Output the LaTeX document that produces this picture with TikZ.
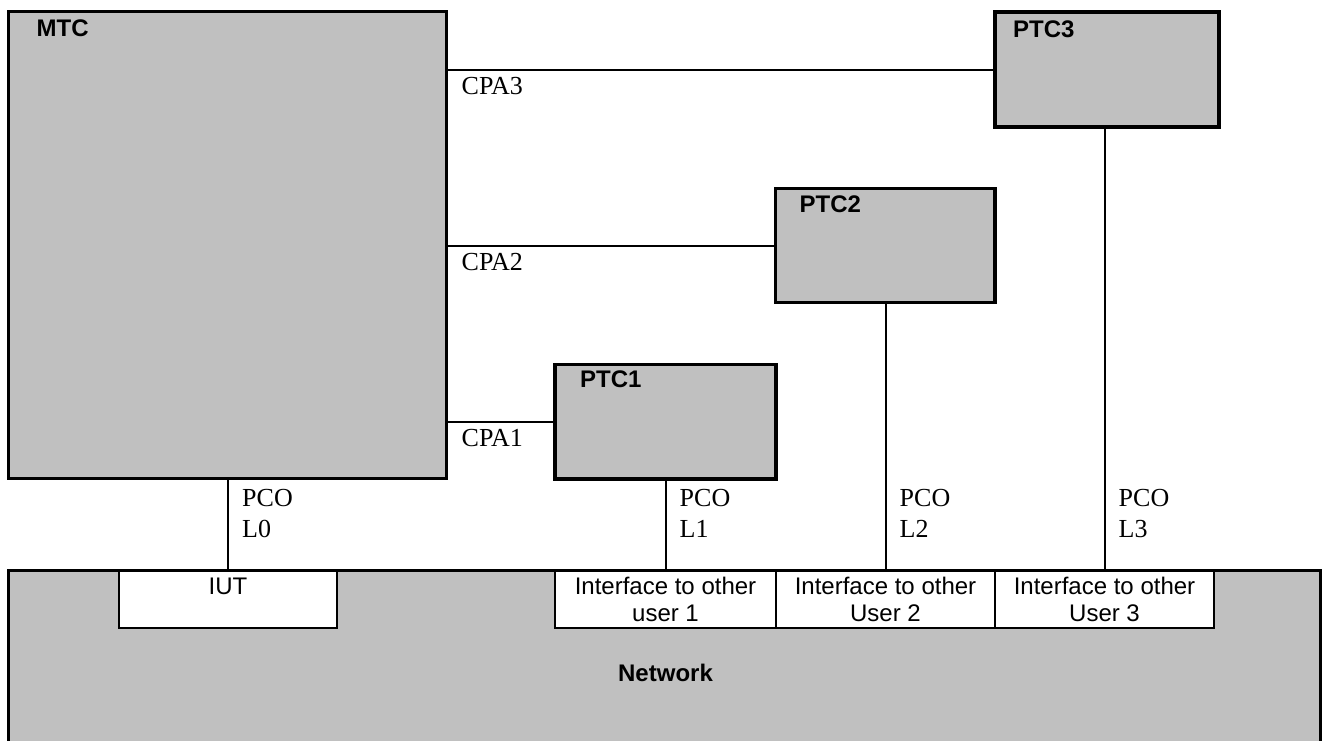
\documentclass[tikz,border=0pt]{standalone}
\usepackage{fontspec}
\setmainfont{Liberation Serif}
\setsansfont{Liberation Sans}
\usetikzlibrary{positioning,calc}
\definecolor{tcGray}{HTML}{C0C0C0}
\tikzset{
    % component boxes
    comp/.style={rectangle,draw=black,fill=tcGray,line width=3.5pt,anchor=north west,inner sep=0pt,outer sep=0pt},
    iface/.style={rectangle,draw=black,fill=white,line width=1.8pt,anchor=north west,inner sep=0pt,outer sep=0pt,align=center,font=\sffamily\fontsize{24}{27}\selectfont},
    % texts
    compname/.style={anchor=base west,inner sep=0pt,font=\sffamily\bfseries\fontsize{24}{28}\selectfont},
    portlbl/.style={anchor=base west,inner sep=0pt,align=left,font=\fontsize{26}{31}\selectfont},
    % connectors
    link/.style={line width=2pt}
}

\begin{document}
\begin{tikzpicture}[x=1pt,y=-1pt]
    \useasboundingbox (0,0) rectangle (1324,740);

    % Network with its interfaces
    \node[comp,minimum width=1312pt,minimum height=200pt] (net) at (8.5,570.5) {};
    \node[compname,anchor=base] (netname) at ($(net.north)+(1,111)$) {Network};
    \node[iface,minimum width=218pt,minimum height=56.5pt] (iut) at (119,571.5) {IUT\\\phantom{I}};
    \node[iface,minimum width=221pt,minimum height=56.5pt] (if1) at (555,571.5) {Interface to other\\user 1};
    \node[iface,minimum width=219pt,minimum height=56.5pt] (if2) at (776,571.5) {Interface to other\\User 2};
    \node[iface,minimum width=219pt,minimum height=56.5pt] (if3) at (995,571.5) {Interface to other\\User 3};

    % Test components
    \node[comp,minimum width=438pt,minimum height=467pt] (mtc) at (8.5,11.5) {};
    \node[comp,minimum width=224pt,minimum height=115pt] (ptc3) at (995,12) {};
    \node[comp,minimum width=219.5pt,minimum height=114pt] (ptc2) at (775.5,188.5) {};
    \node[comp,minimum width=221pt,minimum height=114.5pt] (ptc1) at (555,364.5) {};
    \node[compname] (mtcname) at ($(mtc.north west)+(28,24.5)$) {MTC};
    \node[compname] (ptc3name) at ($(ptc3.north west)+(18,25)$) {PTC3};
    \node[compname] (ptc2name) at ($(ptc2.north west)+(24,24)$) {PTC2};
    \node[compname] (ptc1name) at ($(ptc1.north west)+(25,22.5)$) {PTC1};

    % CPA links MTC -> PTCs
    \draw[link] (mtc.east |- ptc3.west) -- (ptc3.west);
    \draw[link] (mtc.east |- ptc2.west) -- (ptc2.west);
    \draw[link] (mtc.east |- ptc1.west) -- (ptc1.west);
    \node[portlbl] (cpa3) at ($(mtc.east |- ptc3.west)+(15,25)$) {CPA3};
    \node[portlbl] (cpa2) at ($(mtc.east |- ptc2.west)+(15,25)$) {CPA2};
    \node[portlbl] (cpa1) at ($(mtc.east |- ptc1.west)+(15,25)$) {CPA1};

    % PCO links down to the network
    \draw[link] (mtc.south -| iut.north) -- (iut.north);
    \draw[link] (ptc1.south -| if1.north) -- (if1.north);
    \draw[link] (ptc2.south -| if2.north) -- (if2.north);
    \draw[link] (ptc3.south -| if3.north) -- (if3.north);
    \node[portlbl] (pco0) at ($(iut.north)+(14,-34)$) {PCO\\L0};
    \node[portlbl] (pco1) at ($(if1.north)+(14,-34)$) {PCO\\L1};
    \node[portlbl] (pco2) at ($(if2.north)+(14,-34)$) {PCO\\L2};
    \node[portlbl] (pco3) at ($(if3.north)+(14,-34)$) {PCO\\L3};
\end{tikzpicture}
\end{document}
